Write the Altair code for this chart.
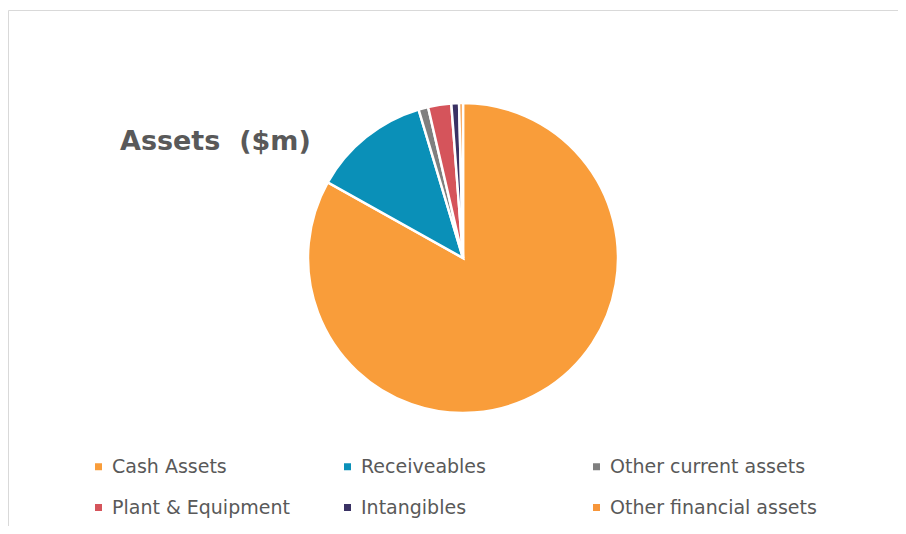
import altair as alt
import pandas as pd

categories = ["Cash Assets", "Receiveables", "Other current assets",
              "Plant & Equipment", "Intangibles", "Other financial assets"]
values = [82.7, 12.2, 1.0, 2.4, 0.8, 0.4]
colors = ["#F99D3A", "#0A90B8", "#7F7F7F", "#D5545B", "#3A3264", "#F7963A"]
title_text = "Assets\u00a0 ($m)"

df = pd.DataFrame({"category": categories, "value": values,
                   "idx": list(range(len(categories)))})

W, H = 890, 518
font = "DejaVu Sans"

border = alt.Chart(pd.DataFrame({"a": [0]})).mark_rect(
    fill=None, stroke="#D9D9D9", strokeWidth=1
).encode(x=alt.value(0.5), x2=alt.value(W + 20), y=alt.value(2.5), y2=alt.value(H + 20))

pie = alt.Chart(df).mark_arc(outerRadius=155, stroke="white", strokeWidth=2.5).encode(
    theta=alt.Theta("value:Q", stack=True),
    order=alt.Order("idx:Q"),
    color=alt.Color(
        "category:N",
        scale=alt.Scale(domain=categories, range=colors),
        sort=categories,
        legend=alt.Legend(
            title=None, orient="none", legendX=81, legendY=449, direction="horizontal",
            columns=3, gridAlign="all", columnPadding=19, rowPadding=21,
            symbolType="square", symbolSize=49, symbolStrokeWidth=0,
            labelFont=font, labelFontSize=19, labelColor="#595959",
            labelOffset=4, labelLimit=400,
        ),
    ),
    x=alt.value(455),
    y=alt.value(250),
)

title = alt.Chart(pd.DataFrame({"t": [title_text]})).mark_text(
    align="left", baseline="middle", font=font, fontSize=27, fontWeight="bold",
    color="#595959"
).encode(text="t:N", x=alt.value(112), y=alt.value(134))

chart = alt.layer(border, pie, title).properties(
    width=W, height=H, autosize=alt.AutoSizeParams(type="none"), padding=0
).configure_view(stroke=None)

chart.save("out.html", embed_options={"renderer": "svg", "actions": False})
